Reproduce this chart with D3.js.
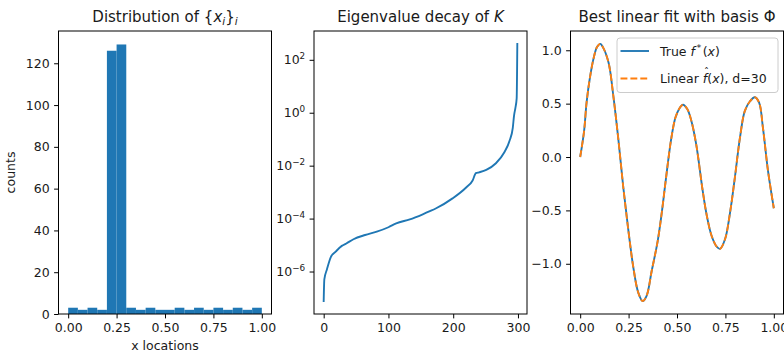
<!DOCTYPE html>
<html>
<head>
<meta charset="utf-8">
<script src="https://cdn.jsdelivr.net/npm/d3@7"></script>
<style>
  body { margin: 0; background: #fff; }
  svg { display: block; font-family: "DejaVu Sans", sans-serif; }
</style>
</head>
<body>
<div class="figure"></div>
<script>
// histogram of x locations (20 bins of width 0.05)
const histBinStarts = [0, 0.05, 0.1, 0.15, 0.2, 0.25, 0.3, 0.35, 0.4, 0.45, 0.5, 0.55, 0.6, 0.65, 0.7, 0.75, 0.8, 0.85, 0.9, 0.95]
const histCounts = [3, 2, 3, 2, 126, 129, 3, 2, 3, 2, 2, 3, 2, 3, 2, 3, 2, 3, 2, 3]
const histBinWidth = 0.05
const histXTicks = [0, 0.25, 0.5, 0.75, 1]
const histYTicks = [0, 20, 40, 60, 80, 100, 120]

// eigenvalues of K (sorted ascending)
const eigIndex = [0, 1, 5, 11, 19, 28, 35, 46, 64, 82, 100, 112, 133, 153, 164, 173, 199, 220, 230, 235, 240, 251, 266, 279, 287, 292, 294, 296, 298, 299]
const eigValues = [7.6e-8, 5.0e-7, 1.2e-6, 3.5e-6, 5.8e-6, 9.3e-6, 1.15e-5, 1.66e-5, 2.4e-5, 3.2e-5, 4.7e-5, 6.6e-5, 9.3e-5, 1.45e-4, 1.9e-4, 2.4e-4, 5.8e-4, 1.5e-3, 2.75e-3, 5.2e-3, 5.6e-3, 6.9e-3, 1.23e-2, 3.2e-2, 8.7e-2, 0.27, 0.8, 1.5, 3.5, 400]
const eigXTicks = [0, 100, 200, 300]
const eigYTicks = [1e-6, 1e-4, 1e-2, 1, 1e2]

// true function and the d=30 linear fit
const fitX = [0, 0.02, 0.033, 0.05, 0.07, 0.087, 0.104, 0.12, 0.147, 0.172, 0.198, 0.223, 0.249, 0.275, 0.3, 0.323, 0.343, 0.369, 0.4, 0.42, 0.437, 0.454, 0.471, 0.492, 0.514, 0.531, 0.553, 0.574, 0.599, 0.633, 0.654, 0.679, 0.705, 0.722, 0.748, 0.774, 0.799, 0.825, 0.85, 0.876, 0.902, 0.924, 0.944, 0.97, 1.0]
const trueF = [0, 0.24, 0.51, 0.74, 0.93, 1.03, 1.06, 1.02, 0.88, 0.56, 0.15, -0.29, -0.69, -1.04, -1.27, -1.35, -1.3, -1.07, -0.79, -0.54, -0.29, -0.04, 0.18, 0.37, 0.46, 0.49, 0.45, 0.34, 0.12, -0.32, -0.55, -0.74, -0.84, -0.86, -0.77, -0.52, -0.19, 0.18, 0.43, 0.52, 0.56, 0.51, 0.27, -0.13, -0.48]
const fitF = [0, 0.24, 0.51, 0.74, 0.93, 1.03, 1.06, 1.02, 0.88, 0.56, 0.15, -0.29, -0.69, -1.04, -1.27, -1.35, -1.3, -1.07, -0.79, -0.54, -0.29, -0.04, 0.18, 0.37, 0.46, 0.49, 0.45, 0.34, 0.12, -0.32, -0.55, -0.74, -0.84, -0.86, -0.77, -0.52, -0.19, 0.18, 0.43, 0.52, 0.56, 0.51, 0.27, -0.13, -0.48]
const fitXTicks = [0, 0.25, 0.5, 0.75, 1]
const fitYTicks = [-1, -0.5, 0, 0.5, 1]

const blue = "#1f77b4"
const orange = "#ff7f0e"
const textColor = "#1a1a1a"
const tickFont = 12.5
const titleFont = 15
const lineW = 1.875
const dash = "6.9,3"

const width = 784
const height = 354
const plotTop = 31
const plotBottom = 314
const panelW = 213
const lefts = [58.5, 314, 570.5]

const svg = d3.select(".figure").append("svg")
    .attr("width", width)
    .attr("height", height)

svg.append("rect").attr("width", width).attr("height", height).attr("fill", "#fff")

function styleAxis(g) {
    g.selectAll("path.domain").remove()
    g.selectAll(".tick line").attr("stroke", "#000").attr("stroke-width", 1)
    g.selectAll(".tick text").attr("fill", textColor).attr("font-size", tickFont)
        .attr("font-family", "DejaVu Sans, sans-serif")
}

function frame(g, x0) {
    g.append("rect")
        .attr("x", x0).attr("y", plotTop)
        .attr("width", panelW).attr("height", plotBottom - plotTop)
        .attr("fill", "none").attr("stroke", "#000").attr("stroke-width", 1)
}

// 5% margins, like matplotlib autoscale
function logDomain(vals) {
    let lo = Math.log10(d3.min(vals)), hi = Math.log10(d3.max(vals))
    let m = (hi - lo) * 0.05
    return [Math.pow(10, lo - m), Math.pow(10, hi + m)]
}
function linDomain(vals) {
    let lo = d3.min(vals), hi = d3.max(vals)
    let m = (hi - lo) * 0.05
    return [lo - m, hi + m]
}

/* ---------- panel 1: histogram ---------- */
{
    const x0 = lefts[0]
    const x = d3.scaleLinear().domain([-0.05, 1.05]).range([x0, x0 + panelW])
    const y = d3.scaleLinear().domain([0, d3.max(histCounts) * 1.05]).range([plotBottom, plotTop])
    const g = svg.append("g")

    g.selectAll("rect.bar")
        .data(histBinStarts)
        .join("rect")
        .attr("class", "bar")
        .attr("x", d => x(d))
        .attr("width", d => x(d + histBinWidth) - x(d))
        .attr("y", (d, i) => y(histCounts[i]))
        .attr("height", (d, i) => plotBottom - y(histCounts[i]))
        .attr("fill", blue)

    g.append("g").attr("transform", `translate(0,${plotBottom})`)
        .call(d3.axisBottom(x).tickValues(histXTicks).tickFormat(d3.format(".2f")).tickSize(4.4).tickPadding(4.4))
        .call(styleAxis)
    g.append("g").attr("transform", `translate(${x0},0)`)
        .call(d3.axisLeft(y).tickValues(histYTicks).tickFormat(d3.format("d")).tickSize(4.4).tickPadding(4.4))
        .call(styleAxis)
    frame(g, x0)

    let t = g.append("text").attr("x", x0 + panelW / 2).attr("y", 21.5)
        .attr("text-anchor", "middle").attr("font-size", titleFont).attr("fill", textColor)
    t.append("tspan").text("Distribution of {")
    t.append("tspan").attr("font-style", "italic").text("x")
    t.append("tspan").attr("font-style", "italic").attr("font-size", 10.5).attr("dy", 3).text("i")
    t.append("tspan").attr("dy", -3).text("}")
    t.append("tspan").attr("font-style", "italic").attr("font-size", 10.5).attr("dy", 3).text("i")

    g.append("text").attr("x", x0 + panelW / 2).attr("y", 349.5)
        .attr("text-anchor", "middle").attr("font-size", tickFont).attr("fill", textColor)
        .text("x locations")
    g.append("text").attr("transform", `translate(15,${(plotTop + plotBottom) / 2}) rotate(-90)`)
        .attr("text-anchor", "middle").attr("font-size", tickFont).attr("fill", textColor)
        .text("counts")
}

/* ---------- panel 2: eigenvalue decay ---------- */
{
    const x0 = lefts[1]
    const x = d3.scaleLinear().domain(linDomain(eigIndex)).range([x0, x0 + panelW])
    const y = d3.scaleLog().domain(logDomain(eigValues)).range([plotBottom, plotTop])
    const g = svg.append("g")

    const line = d3.line()
        .x((d, i) => x(eigIndex[i]))
        .y(d => y(d))
        .curve(d3.curveMonotoneX)

    g.append("path")
        .datum(eigValues)
        .attr("d", line)
        .attr("fill", "none")
        .attr("stroke", blue)
        .attr("stroke-width", lineW)
        .attr("stroke-linejoin", "round")
        .attr("stroke-linecap", "square")

    g.append("g").attr("transform", `translate(0,${plotBottom})`)
        .call(d3.axisBottom(x).tickValues(eigXTicks).tickFormat(d3.format("d")).tickSize(4.4).tickPadding(4.4))
        .call(styleAxis)
    const yAxis = g.append("g").attr("transform", `translate(${x0},0)`)
        .call(d3.axisLeft(y).tickValues(eigYTicks).tickFormat(() => "").tickSize(4.4).tickPadding(4.4))
        .call(styleAxis)
    yAxis.selectAll(".tick text").each(function(d) {
        let e = Math.round(Math.log10(d))
        let el = d3.select(this)
        el.append("tspan").text("10")
        el.append("tspan").attr("font-size", 8.8).attr("dy", -5.5)
            .text(e < 0 ? "\u2212" + (-e) : String(e))
    })
    frame(g, x0)

    let t = g.append("text").attr("x", x0 + panelW / 2).attr("y", 21.5)
        .attr("text-anchor", "middle").attr("font-size", titleFont).attr("fill", textColor)
    t.append("tspan").text("Eigenvalue decay of ")
    t.append("tspan").attr("font-style", "italic").text("K")
}

/* ---------- panel 3: best linear fit ---------- */
{
    const x0 = lefts[2]
    const x = d3.scaleLinear().domain(linDomain(fitX)).range([x0, x0 + panelW])
    const y = d3.scaleLinear().domain(linDomain(trueF.concat(fitF))).range([plotBottom, plotTop])
    const g = svg.append("g")

    const line = d3.line()
        .x((d, i) => x(fitX[i]))
        .y(d => y(d))
        .curve(d3.curveCatmullRom)

    g.append("path")
        .datum(trueF)
        .attr("d", line)
        .attr("fill", "none")
        .attr("stroke", blue)
        .attr("stroke-width", lineW)
    g.append("path")
        .datum(fitF)
        .attr("d", line)
        .attr("fill", "none")
        .attr("stroke", orange)
        .attr("stroke-width", lineW)
        .attr("stroke-dasharray", dash)

    g.append("g").attr("transform", `translate(0,${plotBottom})`)
        .call(d3.axisBottom(x).tickValues(fitXTicks).tickFormat(d3.format(".2f")).tickSize(4.4).tickPadding(4.4))
        .call(styleAxis)
    g.append("g").attr("transform", `translate(${x0},0)`)
        .call(d3.axisLeft(y).tickValues(fitYTicks).tickFormat(d3.format(".1f")).tickSize(4.4).tickPadding(4.4))
        .call(styleAxis)
    frame(g, x0)

    g.append("text").attr("x", x0 + panelW / 2).attr("y", 21.5)
        .attr("text-anchor", "middle").attr("font-size", titleFont).attr("fill", textColor)
        .text("Best linear fit with basis \u03a6")

    // legend
    const lg = g.append("g")
    lg.append("rect")
        .attr("x", 617).attr("y", 38).attr("width", 161).attr("height", 54.5).attr("rx", 3)
        .attr("fill", "#fff").attr("fill-opacity", 0.8)
        .attr("stroke", "#cccccc").attr("stroke-width", 1)
    lg.append("line").attr("x1", 620.5).attr("x2", 649).attr("y1", 51).attr("y2", 51)
        .attr("stroke", blue).attr("stroke-width", lineW)
    lg.append("line").attr("x1", 620.5).attr("x2", 649).attr("y1", 78.5).attr("y2", 78.5)
        .attr("stroke", orange).attr("stroke-width", lineW).attr("stroke-dasharray", dash)

    let l1 = lg.append("text").attr("x", 660).attr("y", 55.5).attr("font-size", tickFont).attr("fill", textColor)
    l1.append("tspan").text("True ")
    l1.append("tspan").attr("font-style", "italic").text("f")
    l1.append("tspan").attr("font-size", 9.5).attr("dx", 1.5).attr("dy", -4.5).text("*")
    l1.append("tspan").attr("dx", 1.5).attr("dy", 4.5).text("(")
    l1.append("tspan").attr("font-style", "italic").text("x")
    l1.append("tspan").text(")")

    let l2 = lg.append("text").attr("x", 660).attr("y", 83.3).attr("font-size", tickFont).attr("fill", textColor)
    l2.append("tspan").text("Linear ")
    l2.append("tspan").attr("font-style", "italic").text("f")
    l2.append("tspan").text("(")
    l2.append("tspan").attr("font-style", "italic").text("x")
    l2.append("tspan").text("), d=30")

    // hat over the f, placed from the rendered glyph box
    let fBox = l2.node().getExtentOfChar(7)
    lg.append("text")
        .attr("x", fBox.x + fBox.width / 2 + 1.5)
        .attr("y", 83.3 - 7.5)
        .attr("text-anchor", "middle").attr("font-size", 10).attr("fill", textColor)
        .text("\u02c6")
}
</script>
</body>
</html>
